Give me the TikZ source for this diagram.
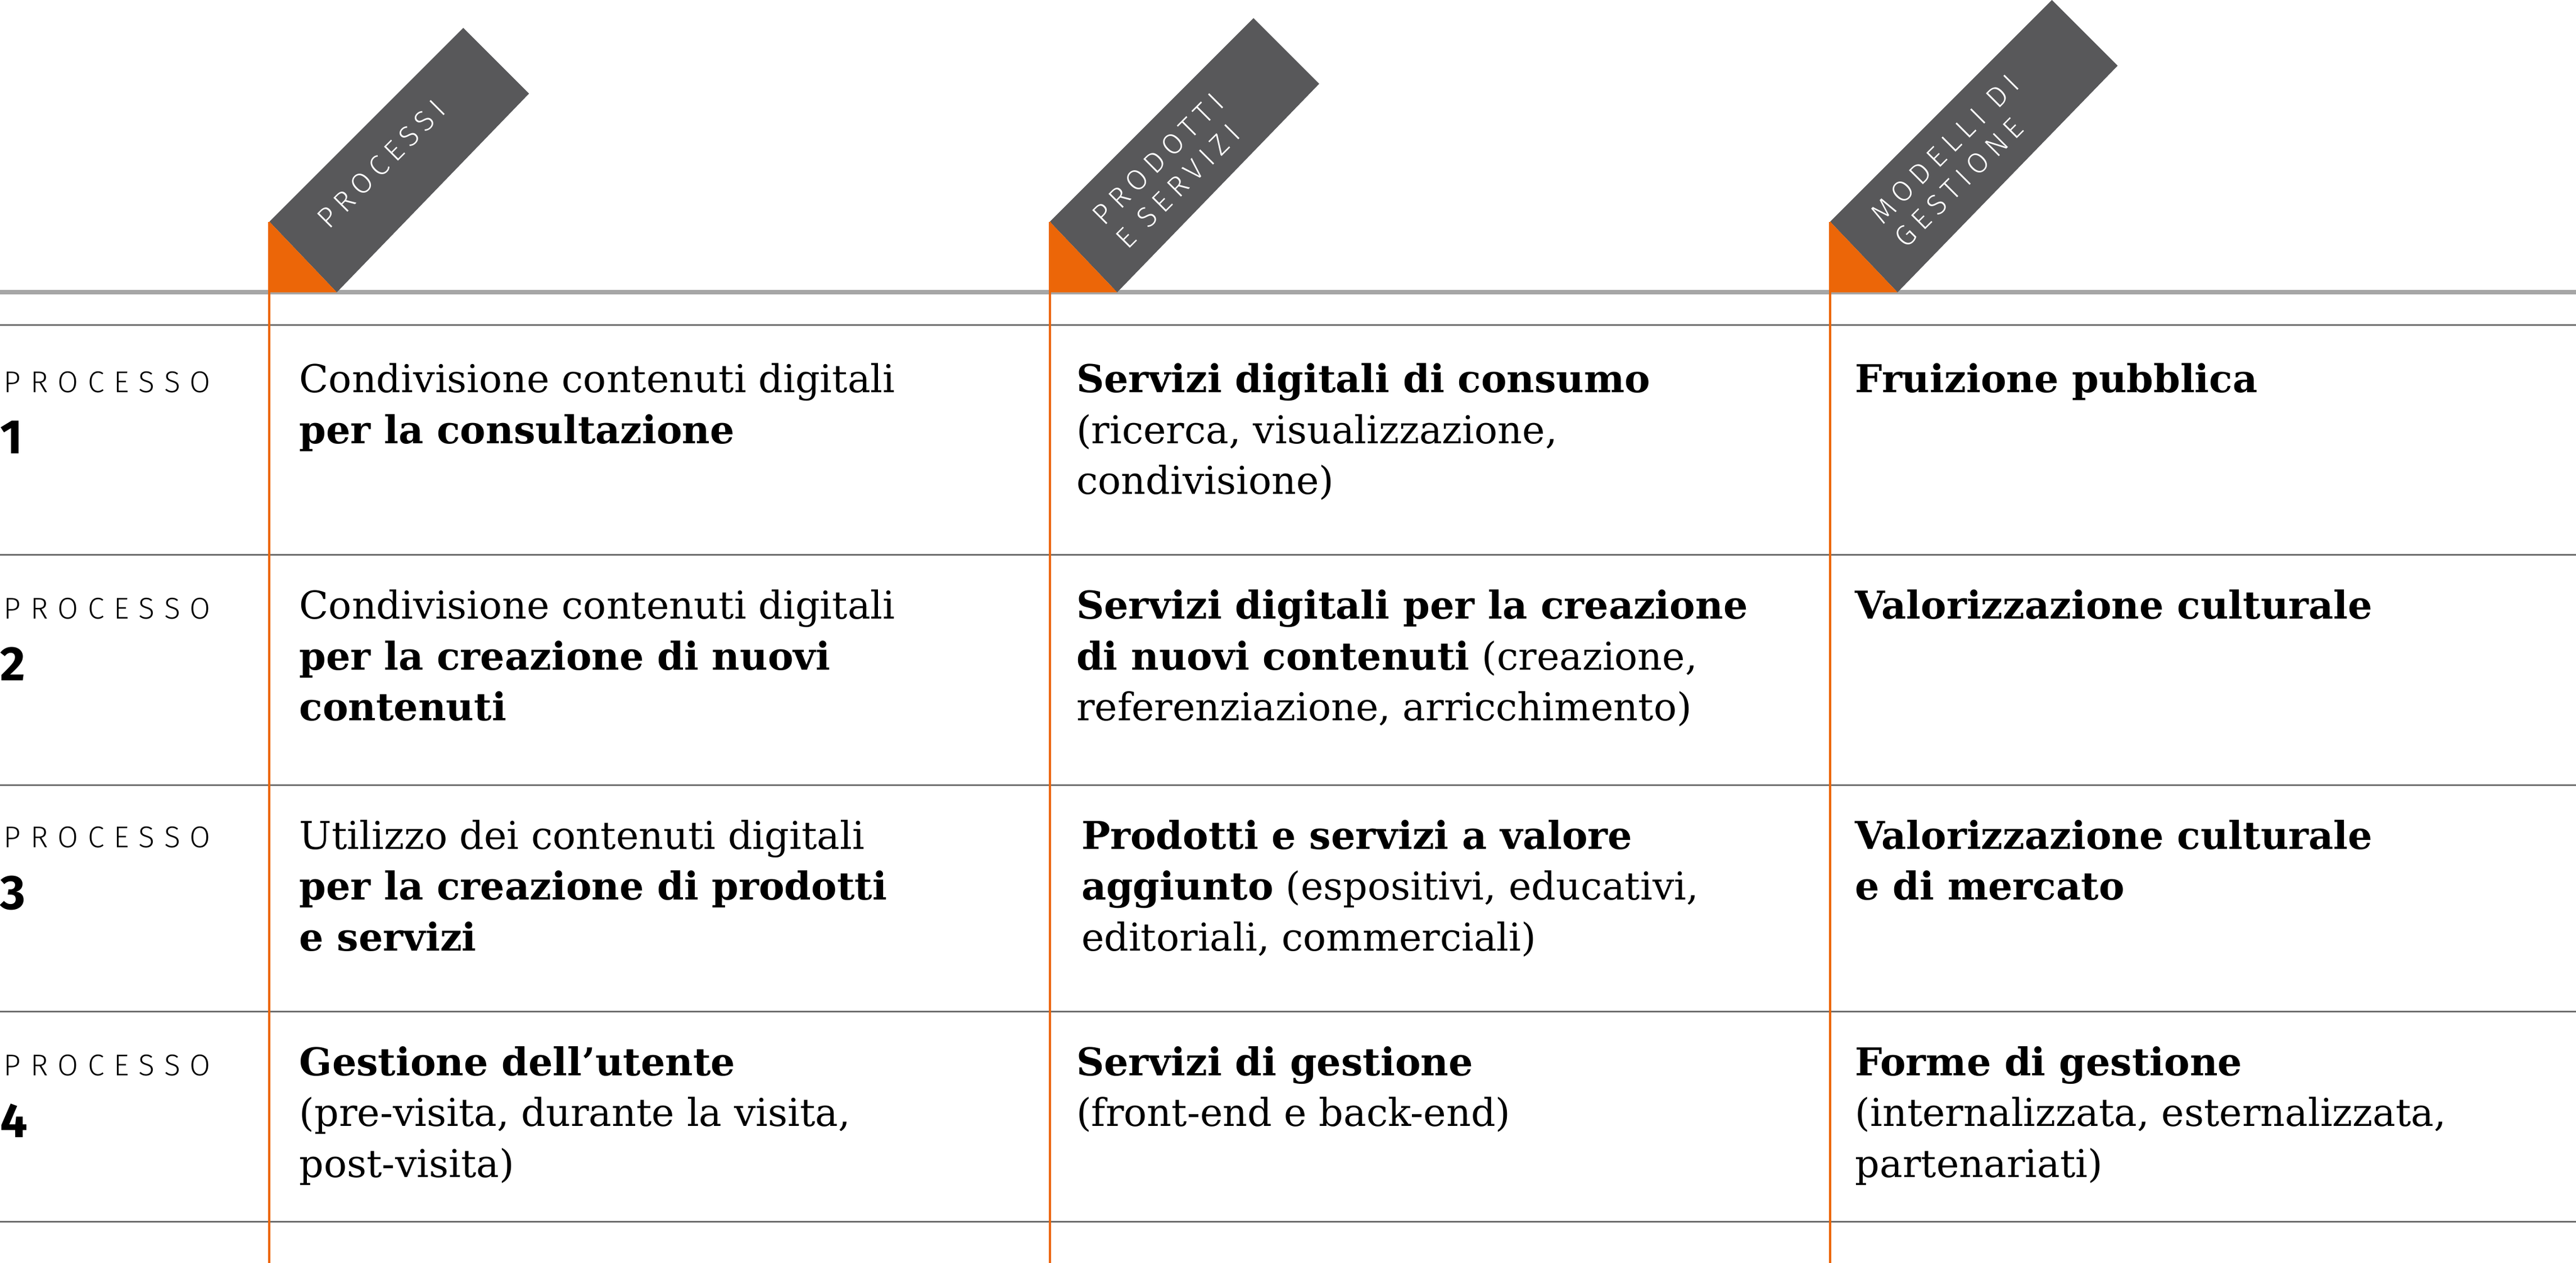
\documentclass[tikz,border=0pt]{standalone}
\usepackage{fontspec}
\setmainfont{DejaVu Serif}
\newfontfamily\tagfont[LetterSpace=22]{Fira Sans Light}
\newfontfamily\labfont[LetterSpace=32]{Fira Sans Light}
\newfontfamily\numfont{Fira Sans}
\definecolor{tagGray}{HTML}{58585A}
\definecolor{tagOrange}{HTML}{EC6608}
\definecolor{ruleGray}{HTML}{6F6F6F}
\begin{document}
\begin{tikzpicture}[x=0.025cm, y=-0.025cm,
                    cell/.style={anchor=north west, inner sep=0pt, align=left, font=\fontsize{16.6}{22}\selectfont},
                    rowlab/.style={anchor=north west, inner sep=0pt, align=left, font=\labfont\fontsize{13}{15}\selectfont},
                    rownum/.style={anchor=north west, inner sep=0pt, font=\numfont\bfseries\fontsize{21}{22}\selectfont},
                    tagtext/.style={rotate=45, text=white, align=left, inner sep=0pt, font=\tagfont\fontsize{12.5}{14.5}\selectfont}]

  \useasboundingbox (0,0) rectangle (1568,769);

  % header rules
  \draw[line width=2pt, gray!70] (0,178) -- (1568,178);
  \foreach \y in {198,338,478,616,744}
    \draw[ruleGray, line width=0.7pt] (0,\y) -- (1568,\y);

  % tags and orange columns
  \foreach \x/\len in {164/118, 639/124, 1114/135} {
    \fill[tagGray] (\x,135) -- ++(\len,-\len) -- ++(40,40) -- (\x+41,178) -- cycle;
    \fill[tagOrange] (\x,135) -- (\x,178) -- (\x+41,178) -- cycle;
    \draw[tagOrange, line width=1pt] (\x,135) -- (\x,769);
  }
  \node[tagtext] (t1) at (232,100) {PROCESSI};
  \node[tagtext] (t2) at (712,104) {PRODOTTI\\E SERVIZI};
  \node[tagtext] (t3) at (1191,98) {MODELLI DI\\GESTIONE};

  % row labels
  \node[rowlab] (p1) at (2,226) {PROCESSO};
  \node[rownum] (n1) at (0,256) {1};
  \node[rowlab] (p2) at (2,364) {PROCESSO};
  \node[rownum] (n2) at (0,394) {2};
  \node[rowlab] (p3) at (2,503) {PROCESSO};
  \node[rownum] (n3) at (0,533) {3};
  \node[rowlab] (p4) at (2,642) {PROCESSO};
  \node[rownum] (n4) at (0,672) {4};

  % cells
  \node[cell] (a1) at (182,221) {Condivisione contenuti digitali\\\textbf{per la consultazione}};
  \node[cell] (b1) at (655,221) {\textbf{Servizi digitali di consumo}\\(ricerca, visualizzazione,\\condivisione)};
  \node[cell] (c1) at (1129,221) {\textbf{Fruizione pubblica}};

  \node[cell] (a2) at (182,359) {Condivisione contenuti digitali\\\textbf{per la creazione di nuovi}\\\textbf{contenuti}};
  \node[cell] (b2) at (655,359) {\textbf{Servizi digitali per la creazione}\\\textbf{di nuovi contenuti} (creazione,\\referenziazione, arricchimento)};
  \node[cell] (c2) at (1129,359) {\textbf{Valorizzazione culturale}};

  \node[cell] (a3) at (182,499) {Utilizzo dei contenuti digitali\\\textbf{per la creazione di prodotti}\\\textbf{e servizi}};
  \node[cell] (b3) at (658,499) {\textbf{Prodotti e servizi a valore}\\\textbf{aggiunto} (espositivi, educativi,\\editoriali, commerciali)};
  \node[cell] (c3) at (1129,499) {\textbf{Valorizzazione culturale}\\\textbf{e di mercato}};

  \node[cell] (a4) at (182,637) {\textbf{Gestione dell’utente}\\(pre-visita, durante la visita,\\post-visita)};
  \node[cell] (b4) at (655,637) {\textbf{Servizi di gestione}\\(front-end e back-end)};
  \node[cell] (c4) at (1129,637) {\textbf{Forme di gestione}\\(internalizzata, esternalizzata,\\partenariati)};

\end{tikzpicture}
\end{document}
